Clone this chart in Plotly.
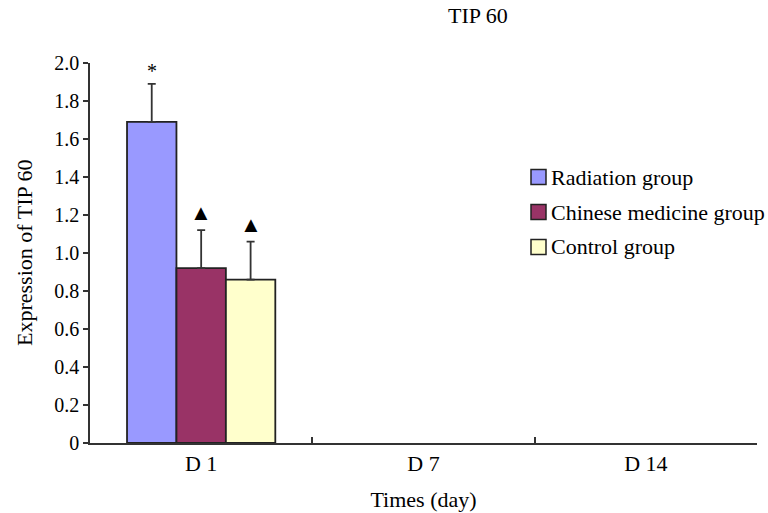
import plotly.graph_objects as go

categories = ["D 1", "D 7", "D 14"]
groups = ["Radiation group", "Chinese medicine group", "Control group"]
values = {
    "Radiation group": [1.69, None, None],
    "Chinese medicine group": [0.92, None, None],
    "Control group": [0.86, None, None],
}
errors = {
    "Radiation group": [0.20, None, None],
    "Chinese medicine group": [0.20, None, None],
    "Control group": [0.20, None, None],
}
marks = {"Radiation group": "*", "Chinese medicine group": "▲", "Control group": "▲"}
colors = {"Radiation group": "#9999FF", "Chinese medicine group": "#993366", "Control group": "#FFFFCC"}
yticks = [0, 0.2, 0.4, 0.6, 0.8, 1.0, 1.2, 1.4, 1.6, 1.8, 2.0]
yticktext = ["0"] + [f"{v:.1f}" for v in yticks[1:]]

FONT = "Liberation Serif, Times New Roman, serif"
FS = 22

fig = go.Figure()
for g in groups:
    fig.add_trace(go.Bar(
        name=g, x=categories, y=values[g], showlegend=False,
        marker=dict(color=colors[g], line=dict(color="#222222", width=1.8)),
        error_y=dict(type="data", array=errors[g], arrayminus=[0, 0, 0], symmetric=False,
                     color="#333333", thickness=1.8, width=4),
    ))

L, R, T, B = 90, 11, 63, 70
W, H = 768, 513
pw, ph = W - L - R, H - T - B
cat_px = pw / len(categories)
bargap = 0.333
bar_px = cat_px * (1 - bargap) / len(groups)


def px_x(p):
    return (p - L) / pw


def px_y(p):
    return (H - B - p) / ph


annotations = []
shapes = []
for i, g in enumerate(groups):
    top = values[g][0] + errors[g][0]
    annotations.append(dict(
        x=categories[0], y=top, xref="x", yref="y", text=marks[g], showarrow=False,
        xshift=(i - 1) * bar_px, yanchor="bottom", yshift=3 if marks[g] == "▲" else 0,
        font=dict(family=FONT, size=22 if marks[g] == "▲" else 20, color="black"),
    ))
    # manual legend entry
    cy = 177 + 35 * i
    shapes.append(dict(type="rect", xref="paper", yref="paper",
                       x0=px_x(531), x1=px_x(546), y0=px_y(cy - 7.5), y1=px_y(cy + 7.5),
                       fillcolor=colors[g], line=dict(color="#222222", width=1.5)))
    annotations.append(dict(x=px_x(549), y=px_y(cy), xref="paper", yref="paper", text=g,
                            showarrow=False, xanchor="left", yanchor="middle",
                            font=dict(family=FONT, size=FS, color="black")))

annotations.append(dict(x=px_x(478), y=px_y(16), xref="paper", yref="paper",
                        text="TIP 60", showarrow=False, yanchor="middle",
                        font=dict(family=FONT, size=FS, color="black")))
annotations.append(dict(x=px_x(24), y=px_y(253), xref="paper", yref="paper",
                        text="Expression of TIP 60", showarrow=False, textangle=-90,
                        xanchor="center", yanchor="middle",
                        font=dict(family=FONT, size=FS, color="black")))

fig.update_layout(
    width=W, height=H,
    margin=dict(l=L, r=R, t=T, b=B),
    paper_bgcolor="white", plot_bgcolor="white",
    barmode="group", bargap=bargap, bargroupgap=0,
    font=dict(family=FONT, size=FS, color="black"),
    showlegend=False,
    annotations=annotations,
    shapes=shapes,
    xaxis=dict(
        type="category", showline=True, linecolor="#333333", linewidth=1.5,
        ticks="inside", tickson="boundaries", ticklen=6, tickcolor="#333333", tickwidth=1.5,
        showgrid=False, tickfont=dict(size=FS), automargin=False,
        title=dict(text="Times (day)", font=dict(size=FS), standoff=16),
    ),
    yaxis=dict(
        range=[0, 2.0], tickvals=yticks, ticktext=yticktext, automargin=False,
        showline=True, linecolor="#333333", linewidth=1.5,
        ticks="outside", ticklen=5, tickcolor="#333333", tickwidth=1.5,
        showgrid=False, zeroline=False, tickfont=dict(size=20),
    ),
)

fig.write_html("out.html")
